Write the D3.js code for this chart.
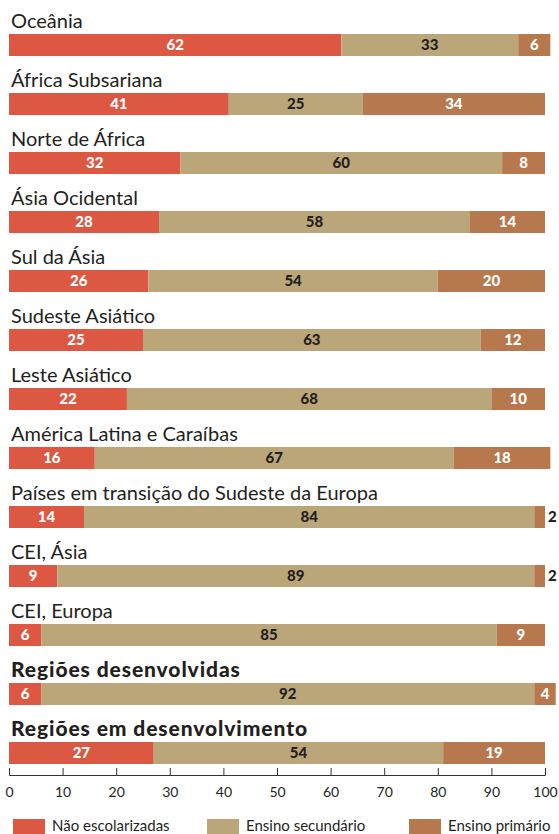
<!DOCTYPE html>
<html>
<head>
<meta charset="utf-8">
<script src="https://cdn.jsdelivr.net/npm/d3@7"></script>
<style>
  body { margin: 0; background: #fff; }
  svg { display: block; font-family: Lato, "Open Sans", sans-serif; }
</style>
</head>
<body>
<svg width="559" height="834"></svg>
<script>
// regions, top to bottom
const regions = [
  'Oceânia', 'África Subsariana', 'Norte de África', 'Ásia Ocidental',
  'Sul da Ásia', 'Sudeste Asiático', 'Leste Asiático',
  'América Latina e Caraíbas', 'Países em transição do Sudeste da Europa',
  'CEI, Ásia', 'CEI, Europa', 'Regiões desenvolvidas', 'Regiões em desenvolvimento'
];
const boldRegions = ['Regiões desenvolvidas', 'Regiões em desenvolvimento'];

// series values (%)
const naoEscolarizadas = [62, 41, 32, 28, 26, 25, 22, 16, 14, 9, 6, 6, 27];
const ensinoSecundario = [33, 25, 60, 58, 54, 63, 68, 67, 84, 89, 85, 92, 54];
const ensinoPrimario   = [6, 34, 8, 14, 20, 12, 10, 18, 2, 2, 9, 4, 19];

const seriesNames = ['Não escolarizadas', 'Ensino secundário', 'Ensino primário'];
const seriesColors = ['#dc5843', '#bba67a', '#b8784d'];
const labelColors = ['#ffffff', '#231f20', '#ffffff'];
const xTicks = [0, 10, 20, 30, 40, 50, 60, 70, 80, 90, 100];

const svg = d3.select('svg');

const x = d3.scaleLinear().domain([0, 100]).range([9, 545]);
// top of each bar
const y = d3.scaleLinear().domain([0, 1]).range([34, 93]);
const barH = 22;

// build stacked rows
const rows = regions.map((r, i) => {
  const vals = [naoEscolarizadas[i], ensinoSecundario[i], ensinoPrimario[i]];
  let acc = 0;
  const segs = vals.map((v, k) => {
    const s = {k: k, v: v, x0: acc, x1: acc + v};
    acc += v;
    return s;
  });
  return {name: r, i: i, segs: segs};
});

const rowG = svg.append('g')
  .selectAll('g.row')
  .data(rows)
  .enter()
  .append('g')
  .attr('class', 'row')
  .attr('transform', d => 'translate(0,' + y(d.i) + ')');

// region title above each bar (the two totals are heavier)
rowG.append('text')
  .attr('x', 11)
  .attr('y', -6)
  .style('font-size', d => boldRegions.includes(d.name) ? '21px' : '20px')
  .style('font-weight', d => boldRegions.includes(d.name) ? 900 : 'normal')
  .style('letter-spacing', d => boldRegions.includes(d.name) ? '0.9px' : '0px')
  .style('fill', '#231f20')
  .text(d => d.name);

const segG = rowG.selectAll('g.seg')
  .data(d => d.segs)
  .enter()
  .append('g')
  .attr('class', 'seg');

segG.append('rect')
  .attr('x', d => x(d.x0))
  .attr('y', 0)
  .attr('width', d => x(d.x1) - x(d.x0))
  .attr('height', barH)
  .attr('fill', d => seriesColors[d.k]);

// value labels, tiny segments get their label outside the bar
segG.append('text')
  .attr('x', d => d.v <= 2 ? x(d.x1) + 3 : (x(d.x0) + x(d.x1)) / 2)
  .attr('y', barH / 2)
  .attr('dy', '0.36em')
  .attr('text-anchor', d => d.v <= 2 ? 'start' : 'middle')
  .style('font-size', '15px')
  .style('font-weight', 900)
  .style('fill', d => d.v <= 2 ? '#231f20' : labelColors[d.k])
  .text(d => d.v);

// axis
const axis = d3.axisBottom(x)
  .tickValues(xTicks)
  .tickSizeInner(-7)
  .tickSizeOuter(-7)
  .tickPadding(12);

const axG = svg.append('g')
  .attr('transform', 'translate(0,775)')
  .call(axis);
axG.select('.domain').attr('stroke', '#333');
axG.selectAll('.tick line').attr('stroke', '#333');
axG.selectAll('.tick text')
  .style('font-size', '14px')
  .style('font-family', 'Lato, sans-serif')
  .attr('fill', '#231f20');

// legend
const legendX = [13, 207, 409];
const legG = svg.append('g')
  .selectAll('g')
  .data(seriesNames)
  .enter()
  .append('g')
  .attr('transform', (d, i) => 'translate(' + legendX[i] + ',819)');

legG.append('rect')
  .attr('width', 32)
  .attr('height', 15)
  .attr('fill', (d, i) => seriesColors[i]);

legG.append('text')
  .attr('x', 39)
  .attr('y', 12)
  .style('font-size', '15px')
  .style('fill', '#231f20')
  .text(d => d);
</script>
</body>
</html>
